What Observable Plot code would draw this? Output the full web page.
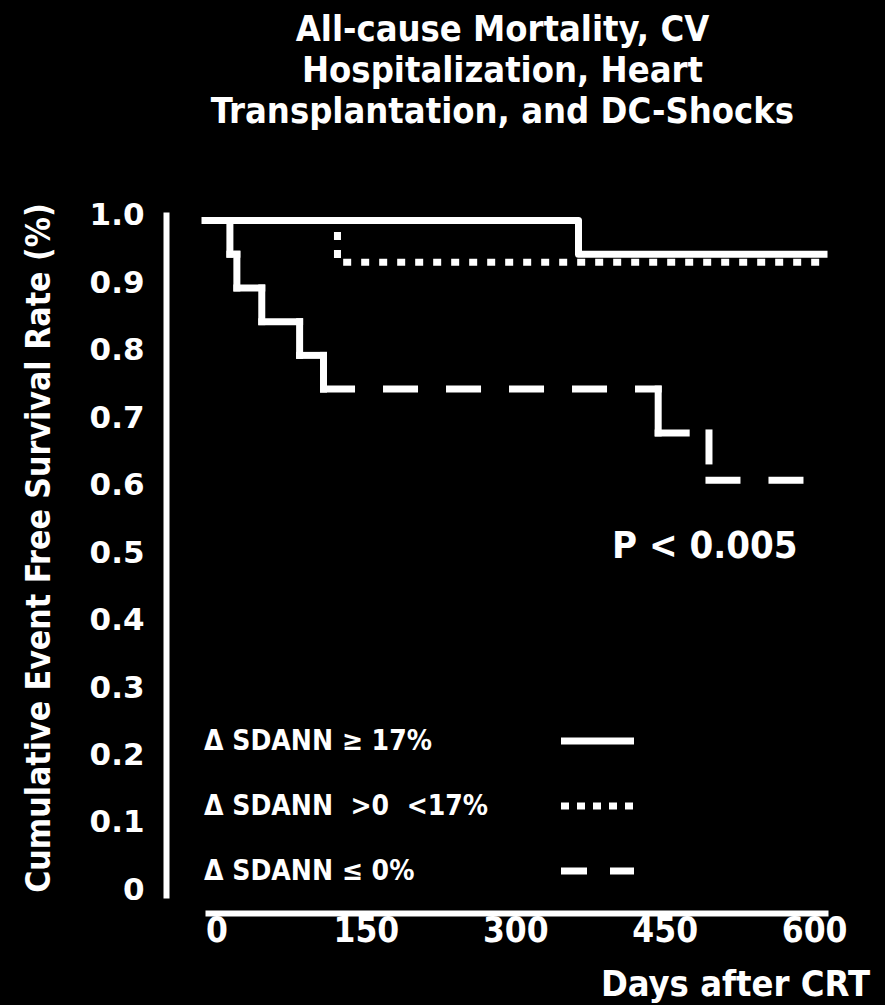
<!DOCTYPE html>
<html>
<head>
<meta charset="utf-8">
<script src="https://cdn.jsdelivr.net/npm/d3@7"></script>
<script src="https://cdn.jsdelivr.net/npm/@observablehq/plot@0.6"></script>
<style>
  body { margin: 0; background: #000; }
  #wrap { position: relative; width: 885px; height: 1005px; background: #000; color: #fff; overflow: hidden; }
  .cond { font-family: "DejaVu Sans Condensed", "DejaVu Sans", sans-serif; font-weight: bold; }
  #title { height: 150px; box-sizing: border-box; padding: 8px 0 0 120px; text-align: center; font-size: 36px; line-height: 41px; }
  #ylabel { position: absolute; left: 38px; top: 548px; transform: translate(-50%, -50%) rotate(-90deg); white-space: nowrap; font-size: 33.5px; }
  #xlabel { position: absolute; right: 15px; top: 964px; font-size: 36px; line-height: 40px; white-space: nowrap; }
  #pval { position: absolute; left: 612px; top: 523px; font-size: 38px; line-height: 44px; white-space: nowrap; }
  .leg { position: absolute; left: 204px; font-size: 28px; line-height: 32px; white-space: pre; }
  .legsw { position: absolute; left: 558px; }
</style>
</head>
<body>
<div id="wrap">
  <div id="title" class="cond">All-cause Mortality, CV<br>Hospitalization, Heart<br>Transplantation, and DC-Shocks</div>
  <div id="chart"></div>
  <div id="ylabel" class="cond">Cumulative Event Free Survival Rate (%)</div>
  <div id="xlabel" class="cond">Days after CRT</div>
  <div id="pval" class="cond">P &lt; 0.005</div>
  <div id="legend"></div>
</div>
<script>
// Kaplan–Meier estimates per ΔSDANN group: event days and survival after each step
const groupNames = ["Δ SDANN ≥ 17%", "Δ SDANN  >0  <17%", "Δ SDANN ≤ 0%"];

const daysHigh = [0, 375, 625];
const survHigh = [1.0, 0.95, 0.95];

const daysMid = [0, 133, 625];
const survMid = [1.0, 0.938, 0.938];

const daysLow = [0, 25, 32, 57, 95, 119, 455, 506, 605];
const survLow = [1.0, 0.95, 0.90, 0.85, 0.80, 0.75, 0.685, 0.615, 0.615];

const yTicks = [0, 0.1, 0.2, 0.3, 0.4, 0.5, 0.6, 0.7, 0.8, 0.9, 1.0];
const yTickLabels = ["0", "0.1", "0.2", "0.3", "0.4", "0.5", "0.6", "0.7", "0.8", "0.9", "1.0"];
const xTicks = [0, 150, 300, 450, 600];
const xTickLabels = ["0", "150", "300", "450", "600"];

// Step table for a continuous step-after line
function steps(days, surv) {
  return days.map((d, i) => ({day: d, surv: surv[i]}));
}

// Break a step curve into its horizontal and vertical pieces, so a dash
// pattern restarts on every piece (short pieces then read as solid)
function segments(days, surv) {
  const out = [];
  for (let i = 0; i < days.length - 1; i++) {
    out.push({x1: days[i], x2: days[i + 1], y1: surv[i], y2: surv[i], long: days[i + 1] - days[i] > 45});
    if (surv[i + 1] !== surv[i]) {
      out.push({x1: days[i + 1], x2: days[i + 1], y1: surv[i], y2: surv[i + 1], long: surv[i] - surv[i + 1] > 0.067});
    }
  }
  return out;
}

const lowSegs = segments(daysLow, survLow);
const W = 7;
const condFont = '"DejaVu Sans Condensed", "DejaVu Sans", sans-serif';

const chart = Plot.plot({
  width: 885,
  height: 855,
  marginTop: 62,
  marginBottom: 92,
  marginLeft: 166,
  marginRight: 57,
  style: {background: "black", color: "white"},
  x: {domain: [0, 626], insetLeft: 38.5},
  y: {domain: [0, 1], insetTop: 8, insetBottom: 18.6},
  marks: [
    // broken-style axis lines
    Plot.frame({anchor: "left", insetBottom: 15, stroke: "white", strokeWidth: 6, strokeLinecap: "butt"}),
    Plot.frame({anchor: "bottom", insetLeft: 39, stroke: "white", strokeWidth: 6, strokeLinecap: "butt"}),
    Plot.axisY({
      ticks: yTicks, tickFormat: d => yTickLabels[yTicks.indexOf(d)],
      tickSize: 0, tickPadding: 22, dy: -5, label: null,
      fontSize: 31, fontWeight: "bold", fontFamily: "DejaVu Sans", fill: "white"
    }),
    Plot.axisX({
      ticks: xTicks, tickFormat: d => xTickLabels[xTicks.indexOf(d)],
      tickSize: 0, tickPadding: 4, dx: 12, label: null,
      fontSize: 35, fontWeight: "bold", fontFamily: condFont, fill: "white"
    }),
    // 0 < ΔSDANN < 17%: dotted
    Plot.line(steps(daysMid, survMid), {
      x: "day", y: "surv", curve: "step-after",
      stroke: "white", strokeWidth: W, strokeDasharray: "8,10", strokeLinecap: "butt"
    }),
    // ΔSDANN ≤ 0%: dashed, restarting on each piece
    Plot.link(lowSegs.filter(s => !s.long), {
      x1: "x1", y1: "y1", x2: "x2", y2: "y2",
      stroke: "white", strokeWidth: W, strokeLinecap: "square"
    }),
    Plot.link(lowSegs.filter(s => s.long), {
      x1: "x1", y1: "y1", x2: "x2", y2: "y2",
      stroke: "white", strokeWidth: W, strokeDasharray: "28,35", strokeLinecap: "square"
    }),
    // ΔSDANN ≥ 17%: solid
    Plot.line(steps(daysHigh, survHigh), {
      x: "day", y: "surv", curve: "step-after",
      stroke: "white", strokeWidth: W, strokeLinecap: "butt"
    })
  ]
});
document.getElementById("chart").appendChild(chart);

// Legend: label plus a short line sample in each group's stroke style
const legendRows = [
  {name: groupNames[0], top: 741, dash: null},
  {name: groupNames[1], top: 806, dash: "8,8"},
  {name: groupNames[2], top: 871, dash: "26,23"}
];
const legend = document.getElementById("legend");
for (const r of legendRows) {
  const t = document.createElement("div");
  t.className = "leg cond";
  t.style.top = (r.top - 16) + "px";
  t.textContent = r.name;
  legend.appendChild(t);
  const sw = d3.create("svg").attr("class", "legsw").attr("width", 78).attr("height", 10)
    .style("top", (r.top - 5) + "px");
  sw.append("line").attr("x1", 3).attr("x2", 76).attr("y1", 5).attr("y2", 5)
    .attr("stroke", "white").attr("stroke-width", W)
    .attr("stroke-dasharray", r.dash);
  legend.appendChild(sw.node());
}
</script>
</body>
</html>
